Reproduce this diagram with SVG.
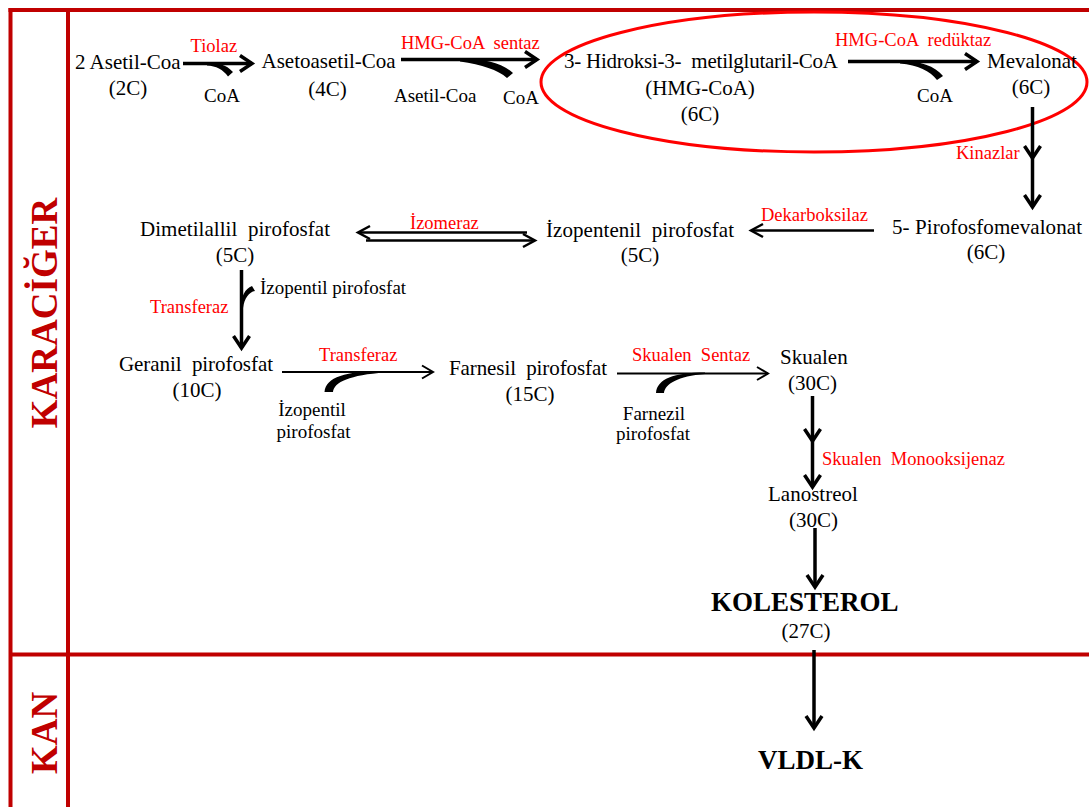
<svg xmlns="http://www.w3.org/2000/svg" width="1089" height="807" viewBox="0 0 1089 807">
<style>
text { font-family: "Liberation Serif", "Times New Roman", serif; fill: #000; }
.m { font-size: 21px; }
.s { font-size: 19px; }
.e { font-size: 18.5px; fill: #ff0000; }
.b { font-size: 27px; font-weight: bold; }
.lane { font-size: 37px; font-weight: bold; fill: #c00000; }
.c { text-anchor: middle; }
.frame { stroke: #c00000; stroke-width: 4; fill: none; }
.w1 { stroke: #000; stroke-width: 3.5; fill: none; }
.w2 { stroke: #000; stroke-width: 2; fill: none; }
.w25 { stroke: #000; stroke-width: 2.5; fill: none; }
.br { fill: #000; stroke: none; }
</style>
<defs>
<marker id="hBig" markerUnits="userSpaceOnUse" markerWidth="20" markerHeight="20" viewBox="-16 -10 20 20" refX="0" refY="0" orient="auto" overflow="visible">
<path d="M-12,-8 L0,0 L-12,8" fill="none" stroke="#000" stroke-width="3.5"/>
</marker>
<marker id="hMed" markerUnits="userSpaceOnUse" markerWidth="20" markerHeight="20" viewBox="-16 -10 20 20" refX="0" refY="0" orient="auto" overflow="visible">
<path d="M-12,-6.5 L0,0 L-12,6.5" fill="none" stroke="#000" stroke-width="2.5"/>
</marker>
<marker id="hThin" markerUnits="userSpaceOnUse" markerWidth="20" markerHeight="20" viewBox="-16 -10 20 20" refX="0" refY="0" orient="auto" overflow="visible">
<path d="M-11,-6.5 L0,0 L-11,6.5" fill="none" stroke="#000" stroke-width="2"/>
</marker>
</defs>
<rect width="1089" height="807" fill="#fff"/>

<g id="frame">
<line class="frame" x1="8.5" y1="10" x2="1089" y2="10"/>
<line class="frame" x1="10.5" y1="8" x2="10.5" y2="807"/>
<line class="frame" x1="68" y1="10" x2="68" y2="807"/>
<line class="frame" x1="10.5" y1="654.5" x2="1089" y2="654.5"/>
</g>

<g id="lane-karaciger"><text class="lane c" transform="translate(57 313) rotate(-90)">KARACİĞER</text></g>
<g id="lane-kan"><text class="lane c" transform="translate(57 733) rotate(-90)">KAN</text></g>

<ellipse id="hmg-highlight" cx="814" cy="82" rx="273" ry="70" fill="none" stroke="#ff0000" stroke-width="3"/>

<g id="connectors">
<line class="w1" x1="183" y1="63.5" x2="252" y2="63.5" marker-end="url(#hBig)"/>
<path class="br" d="M207,62.5 C218,62.5 226,64.5 233,72 L228,76.5 C223,69.5 216,66 207,65.5 Z"/>
<line class="w1" x1="401" y1="59.5" x2="537" y2="59.5" marker-end="url(#hBig)"/>
<path class="br" d="M460,58.5 C485,58.5 503,63.5 513,73 L507,78 C498,70 482,64.5 460,61.5 Z"/>
<line class="w1" x1="848" y1="61.5" x2="977" y2="61.5" marker-end="url(#hBig)"/>
<path class="br" d="M900,60.5 C920,61 935,66 943,76 L937,80 C930,71 918,65 900,63.5 Z"/>
<path class="w1" d="M1032.5,107 L1032.5,158 L1032.5,207" marker-mid="url(#hBig)" marker-end="url(#hBig)"/>
<line class="w25" x1="874" y1="230.5" x2="751" y2="230.5" marker-end="url(#hMed)"/>
<line class="w25" x1="527" y1="232.5" x2="358" y2="232.5" marker-end="url(#hMed)"/>
<line class="w25" x1="366" y1="240.5" x2="535" y2="240.5" marker-end="url(#hMed)"/>
<line class="w1" x1="241.5" y1="270" x2="241.5" y2="348" marker-end="url(#hBig)"/>
<path class="br" d="M240.5,308 C241,296 245,289 252,286 L255,291 C249,292 244.5,298 243,308 Z"/>
<line class="w2" x1="282" y1="372" x2="433" y2="372" marker-end="url(#hThin)"/>
<path class="br" d="M324.5,392 L333,392 C334,382 350,375 385,372.5 L385,371 C345,371 326,377 324.5,392 Z"/>
<line class="w2" x1="617" y1="373.5" x2="768" y2="373.5" marker-end="url(#hThin)"/>
<path class="br" d="M656,393 L664,393 C665,384 678,376 705,374 L705,372.5 C674,372.5 657,379 656,393 Z"/>
<path class="w1" d="M812.5,396 L812.5,441 L812.5,487" marker-mid="url(#hBig)" marker-end="url(#hBig)"/>
<line class="w1" x1="815" y1="528" x2="815" y2="587" marker-end="url(#hBig)"/>
<line class="w1" x1="814" y1="650" x2="814" y2="728" marker-end="url(#hBig)"/>
</g>

<g id="enzymes">
<text class="e" x="190.5" y="52">Tiolaz</text>
<text class="e" x="401" y="48.5" xml:space="preserve">HMG-CoA  sentaz</text>
<text class="e" x="835" y="46" xml:space="preserve">HMG-CoA  redüktaz</text>
<text class="e" x="956" y="158.5">Kinazlar</text>
<text class="e" x="761" y="221">Dekarboksilaz</text>
<text class="e" x="410" y="228.5">İzomeraz</text>
<text class="e" x="150" y="313">Transferaz</text>
<text class="e" x="319" y="361">Transferaz</text>
<text class="e" x="632" y="361" xml:space="preserve">Skualen  Sentaz</text>
<text class="e" x="822" y="465" xml:space="preserve">Skualen  Monooksijenaz</text>
</g>

<g id="cofactors">
<text class="s" x="204" y="102">CoA</text>
<text class="s" x="394" y="101.5">Asetil-Coa</text>
<text class="s" x="503" y="104">CoA</text>
<text class="s" x="917" y="101.5">CoA</text>
<text class="s" x="260" y="294">İzopentil pirofosfat</text>
<text class="s c" x="312" y="416">İzopentil</text>
<text class="s c" x="313.5" y="438">pirofosfat</text>
<text class="s c" x="654" y="420">Farnezil</text>
<text class="s c" x="653" y="440">pirofosfat</text>
</g>

<g id="node-asetil-coa">
<text class="m" x="75" y="69">2 Asetil-Coa</text>
<text class="m c" x="128" y="95">(2C)</text>
</g>
<g id="node-asetoasetil-coa">
<text class="m" x="261.5" y="68">Asetoasetil-Coa</text>
<text class="m c" x="327.5" y="96">(4C)</text>
</g>
<g id="node-hmg-coa">
<text class="m" x="564" y="68" textLength="274" xml:space="preserve">3- Hidroksi-3-  metilglutaril-CoA</text>
<text class="m c" x="700" y="95">(HMG-CoA)</text>
<text class="m c" x="700" y="121">(6C)</text>
</g>
<g id="node-mevalonat">
<text class="m" x="987" y="68">Mevalonat</text>
<text class="m c" x="1031" y="94">(6C)</text>
</g>
<g id="node-pirofosfomevalonat">
<text class="m" x="892" y="234" textLength="190">5- Pirofosfomevalonat</text>
<text class="m c" x="986" y="259">(6C)</text>
</g>
<g id="node-izopentenil">
<text class="m" x="546" y="237" textLength="188" xml:space="preserve">İzopentenil  pirofosfat</text>
<text class="m c" x="640" y="262">(5C)</text>
</g>
<g id="node-dimetilallil">
<text class="m" x="140" y="236" textLength="190" xml:space="preserve">Dimetilallil  pirofosfat</text>
<text class="m c" x="235" y="262">(5C)</text>
</g>
<g id="node-geranil">
<text class="m" x="119" y="371" textLength="154" xml:space="preserve">Geranil  pirofosfat</text>
<text class="m c" x="197" y="397">(10C)</text>
</g>
<g id="node-farnesil">
<text class="m" x="449" y="375" textLength="158" xml:space="preserve">Farnesil  pirofosfat</text>
<text class="m c" x="530" y="401">(15C)</text>
</g>
<g id="node-skualen">
<text class="m" x="780" y="363.5">Skualen</text>
<text class="m c" x="812.5" y="390">(30C)</text>
</g>
<g id="node-lanostreol">
<text class="m" x="768" y="500.5">Lanostreol</text>
<text class="m c" x="813.5" y="526.5">(30C)</text>
</g>
<g id="node-kolesterol">
<text class="b" x="711" y="610.5">KOLESTEROL</text>
<text class="m c" x="806" y="638">(27C)</text>
</g>
<g id="node-vldl">
<text class="b" x="758" y="769">VLDL-K</text>
</g>
</svg>
